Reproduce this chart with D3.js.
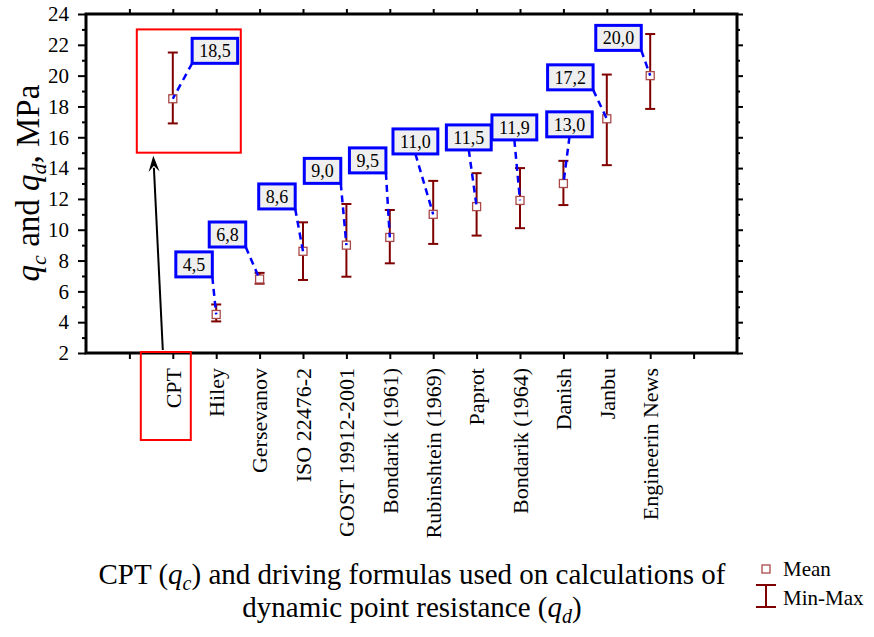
<!DOCTYPE html>
<html><head><meta charset="utf-8">
<script src="https://cdn.jsdelivr.net/npm/d3@7"></script>
<style>
body{margin:0;background:#fff}
svg{display:block}
text{font-family:"Liberation Serif","Times New Roman",serif;fill:#000}
</style>
</head><body>
<svg id="c" width="874" height="637"></svg>
<script>
// ---- data ----
const categories = ["CPT","Hiley","Gersevanov","ISO 22476-2","GOST 19912-2001","Bondarik (1961)","Rubinshtein (1969)","Paprot","Bondarik (1964)","Danish","Janbu","Engineerin News"];
const meanValues = [18.5,4.5,6.8,8.6,9.0,9.5,11.0,11.5,11.9,13.0,17.2,20.0];
const minValues  = [16.9,4.05,6.5,6.74,6.95,7.82,9.08,9.62,10.1,11.6,14.19,17.84];
const maxValues  = [21.5,5.15,7.2,10.48,11.67,11.28,13.17,13.67,14.0,14.47,20.07,22.7];
const yTicks = [2,4,6,8,10,12,14,16,18,20,22,24];
const yMinorTicks = [3,5,7,9,11,13,15,17,19,21,23];
// label box anchors: offset in category steps and value level of box centre
const labelDx = [0.97,-0.51,-0.74,-0.60,-0.55,-0.51,-0.41,-0.18,-0.13,0.14,-0.84,-0.73];
const labelY  = [21.61,7.75,9.69,12.16,13.82,14.5,15.73,15.99,16.64,16.84,19.89,22.45];

const svg = d3.select("#c");
const L = 86, R = 737, T = 14, B = 353;
const slots = ["_a", ...categories, "_b"];
const x = d3.scalePoint().domain(slots).range([L, R]).padding(1);
const step = x.step();
const y = d3.scaleLinear().domain([2, 24]).range([B, T]);
const dark = "#800000";

// axes
const gL = svg.append("g").attr("transform", `translate(${L},0)`);
gL.call(d3.axisLeft(y).tickValues(yTicks).tickSize(8).tickPadding(9));
gL.append("g").call(d3.axisLeft(y).tickValues(yMinorTicks).tickSize(4).tickFormat(""));
const gR = svg.append("g").attr("transform", `translate(${R},0)`);
gR.call(d3.axisRight(y).tickValues(yTicks).tickSize(6).tickFormat(""));
gR.append("g").call(d3.axisRight(y).tickValues(yMinorTicks).tickSize(3).tickFormat(""));
const gT = svg.append("g").attr("transform", `translate(0,${T})`);
gT.call(d3.axisTop(x).tickSize(5).tickFormat(""));
const gB = svg.append("g").attr("transform", `translate(0,${B})`);
gB.call(d3.axisBottom(x).tickSize(6).tickFormat(""));
svg.selectAll(".domain").remove();
svg.selectAll(".tick line").attr("stroke", "#000").attr("stroke-width", 2);
gL.attr("font-family", "Liberation Serif");
gL.selectAll(".tick text").attr("font-size", 21).attr("fill","#000");

// x labels rotated
svg.append("g").selectAll("text").data(categories).join("text")
  .attr("transform", d => `translate(${x(d)},${B + 15}) rotate(-90)`)
  .attr("text-anchor", "end").attr("dy", "0.35em")
  .attr("font-size", 22).text(d => d);

// frame
svg.append("rect").attr("x", L).attr("y", T).attr("width", R - L).attr("height", B - T)
  .attr("fill", "none").attr("stroke", "#000").attr("stroke-width", 3);

// error bars
const eb = svg.append("g").attr("stroke", dark).attr("stroke-width", 2).attr("fill", "none");
categories.forEach((c, i) => {
  const cx = x(c);
  eb.append("line").attr("x1", cx).attr("x2", cx).attr("y1", y(minValues[i])).attr("y2", y(maxValues[i]));
  eb.append("line").attr("x1", cx - 5).attr("x2", cx + 5).attr("y1", y(minValues[i])).attr("y2", y(minValues[i]));
  eb.append("line").attr("x1", cx - 5).attr("x2", cx + 5).attr("y1", y(maxValues[i])).attr("y2", y(maxValues[i]));
});
// mean squares
svg.append("g").selectAll("rect").data(categories).join("rect")
  .attr("x", d => x(d) - 4).attr("y", (d, i) => y(meanValues[i]) - 4)
  .attr("width", 8).attr("height", 8)
  .attr("fill", "#fff").attr("stroke", "#a84848").attr("stroke-width", 1.3);

// labels
const fmt = v => d3.format(".1f")(v).replace(".", ",");
const gLab = svg.append("g");
categories.forEach((c, i) => {
  const px = x(c), py = y(meanValues[i]);
  const cx = px + labelDx[i] * step, cy = y(labelY[i]);
  const t = gLab.append("text").attr("x", cx).attr("y", cy).attr("dy", "0.35em")
    .attr("text-anchor", "middle").attr("font-size", 18).text(fmt(meanValues[i]));
  const w = t.node().getComputedTextLength() + 14, h = 25;
  const x0 = cx - w / 2, x1 = cx + w / 2, y1 = cy + h / 2;
  const sx = (px >= x0 && px <= x1) ? cx : (px > x1 ? x1 : x0);
  gLab.insert("line", "text").attr("x1", sx).attr("y1", y1).attr("x2", px).attr("y2", py)
    .attr("stroke", "#0000ff").attr("stroke-width", 2.5).attr("stroke-dasharray", "7,5");
  gLab.insert("rect", "text").attr("x", x0).attr("y", cy - h / 2).attr("width", w).attr("height", h)
    .attr("fill", "#efefef").attr("stroke", "#0000ff").attr("stroke-width", 3);
});

// red highlight boxes and arrow
const cptX = x("CPT");
svg.append("rect").attr("x", cptX - 36).attr("y", y(23.0)).attr("width", 104).attr("height", y(15.0) - y(23.0))
  .attr("fill", "none").attr("stroke", "#ff0000").attr("stroke-width", 2);
svg.append("rect").attr("x", cptX - 32).attr("y", B - 1).attr("width", 50).attr("height", 88)
  .attr("fill", "none").attr("stroke", "#ff0000").attr("stroke-width", 2);
const ax0 = cptX - 10, ay0 = B - 3, ax1 = cptX - 19.5, ay1 = y(15.0) + 3;
svg.append("line").attr("x1", ax0).attr("y1", ay0).attr("x2", ax1 + 0.6).attr("y2", ay1 + 12)
  .attr("stroke", "#000").attr("stroke-width", 2);
const ang = Math.atan2(ay1 - ay0, ax1 - ax0);
const hl = 16, hw = 5.5;
const bx = ax1 - hl * Math.cos(ang), by = ay1 - hl * Math.sin(ang);
const nx = -Math.sin(ang), ny = Math.cos(ang);
svg.append("path").attr("d", `M${ax1},${ay1}L${bx + nx * hw},${by + ny * hw}L${ax1 - 10 * Math.cos(ang)},${ay1 - 10 * Math.sin(ang)}L${bx - nx * hw},${by - ny * hw}Z`)
  .attr("fill", "#000");

// y title
const yt = svg.append("text").attr("transform", `translate(39,183) rotate(-90)`)
  .attr("text-anchor", "middle").attr("font-size", 33);
yt.append("tspan").attr("font-style", "italic").text("q");
yt.append("tspan").attr("font-style", "italic").attr("font-size", 22).attr("dy", 7).text("c");
yt.append("tspan").attr("dy", -7).text(" and ");
yt.append("tspan").attr("font-style", "italic").text("q");
yt.append("tspan").attr("font-style", "italic").attr("font-size", 22).attr("dy", 7).text("d");
yt.append("tspan").attr("dy", -7).text(", MPa");

// x title
const xt1 = svg.append("text").attr("x", 412).attr("y", 584).attr("text-anchor", "middle").attr("font-size", 29);
xt1.append("tspan").text("CPT (");
xt1.append("tspan").attr("font-style", "italic").text("q");
xt1.append("tspan").attr("font-style", "italic").attr("font-size", 20).attr("dy", 6).text("c");
xt1.append("tspan").attr("dy", -6).text(") and driving formulas used on calculations of");
const xt2 = svg.append("text").attr("x", 412).attr("y", 617).attr("text-anchor", "middle").attr("font-size", 29);
xt2.append("tspan").text("dynamic point resistance (");
xt2.append("tspan").attr("font-style", "italic").text("q");
xt2.append("tspan").attr("font-style", "italic").attr("font-size", 20).attr("dy", 6).text("d");
xt2.append("tspan").attr("dy", -6).text(")");

// legend
const lg = svg.append("g");
lg.append("rect").attr("x", 762).attr("y", 565).attr("width", 8).attr("height", 8)
  .attr("fill", "#fff").attr("stroke", "#a84848").attr("stroke-width", 1.3);
lg.append("text").attr("x", 783).attr("y", 576).attr("font-size", 21).text("Mean");
const le = lg.append("g").attr("stroke", dark).attr("stroke-width", 2);
le.append("line").attr("x1", 766).attr("x2", 766).attr("y1", 585).attr("y2", 607);
le.append("line").attr("x1", 756).attr("x2", 776).attr("y1", 585).attr("y2", 585);
le.append("line").attr("x1", 756).attr("x2", 776).attr("y1", 607).attr("y2", 607);
lg.append("text").attr("x", 783).attr("y", 605).attr("font-size", 21).text("Min-Max");
</script>
</body></html>
